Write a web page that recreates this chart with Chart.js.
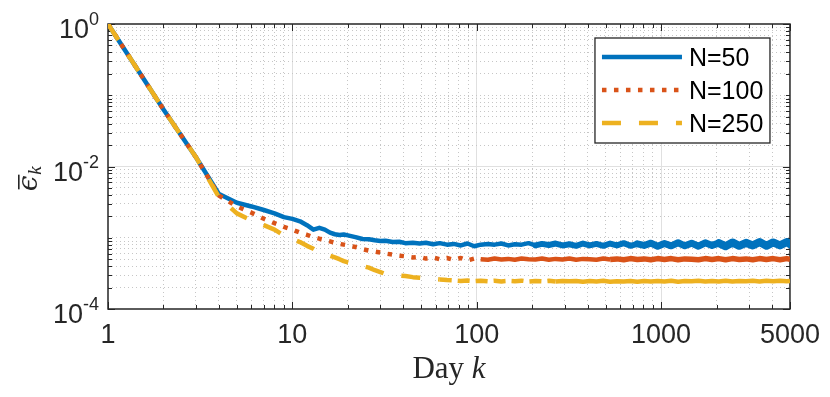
<!DOCTYPE html>
<html>
<head>
<meta charset="utf-8">
<script src="https://cdn.jsdelivr.net/npm/chart.js@4.4.0/dist/chart.umd.min.js"></script>
<style>
  html, body { margin: 0; padding: 0; background: #fff; }
  #wrap { width: 830px; height: 397px; position: relative; }
</style>
</head>
<body>
<div id="wrap"><canvas id="err"></canvas></div>
<script>
// day k (denser early, roughly log spaced later)
var days = [
  1, 2, 3, 4, 5, 6, 7, 8, 9, 10,
  11, 12, 13, 14, 15, 16, 17, 18, 19, 20,
  22, 24, 26, 28, 30, 32, 35, 38, 41, 45,
  49, 53, 58, 63, 69, 75, 82, 89, 97, 105,
  115, 125, 136, 148, 161, 175, 191, 208, 226, 246,
  268, 292, 318, 346, 377, 410, 446, 486, 529, 576,
  627, 682, 743, 809, 880, 958, 1043, 1135, 1236, 1345,
  1464, 1594, 1735, 1889, 2056, 2238, 2436, 2652, 2887, 3142,
  3420, 3723, 4053, 4412, 4803, 5000
];

// mean error, N=50
var errN50 = [
  1, 0.063, 0.0135, 0.0041, 0.0031, 0.00275, 0.00245, 0.0022, 0.00195, 0.00184,
  0.0017, 0.0015, 0.0013, 0.00138, 0.0013, 0.00118, 0.00112, 0.00109, 0.00111, 0.00108,
  0.00102, 0.00096, 0.00095, 0.00092, 0.0009, 0.00091, 0.00087, 0.00088, 0.00084, 0.00085,
  8.3e-4, 8.5e-4, 8.1e-4, 8.4e-4, 8.0e-4, 8.2e-4, 7.8e-4, 8.3e-4, 7.6e-4, 8.0e-4,
  8.2e-4, 8.0e-4, 8.3e-4, 7.8e-4, 8.1e-4, 8.0e-4, 8.4e-4, 7.8e-4, 8.2e-4, 7.9e-4,
  8.3e-4, 7.8e-4, 8.1e-4, 7.7e-4, 8.3e-4, 7.8e-4, 8.2e-4, 7.7e-4, 8.3e-4, 7.8e-4,
  8.4e-4, 7.7e-4, 8.2e-4, 7.8e-4, 8.4e-4, 7.6e-4, 8.3e-4, 7.7e-4, 8.5e-4, 7.7e-4,
  8.4e-4, 7.6e-4, 8.5e-4, 7.8e-4, 8.4e-4, 7.6e-4, 8.6e-4, 7.7e-4, 8.5e-4, 7.8e-4,
  8.7e-4, 7.7e-4, 8.6e-4, 7.8e-4, 8.7e-4, 8.1e-4
];

// mean error, N=100
var errN100 = [
  1, 0.063, 0.0135, 0.0039, 0.00275, 0.00225, 0.00185, 0.0016, 0.00142, 0.0013,
  0.00118, 0.0011, 0.00102, 0.00097, 0.00093, 0.00089, 0.00085, 0.00082, 0.0008, 0.00078,
  0.00074, 0.00069, 0.00066, 0.00064, 0.00062, 0.0006, 0.00058, 0.00056, 0.00055, 0.00053,
  5.4e-4, 5.1e-4, 5.3e-4, 5.0e-4, 5.2e-4, 4.9e-4, 5.2e-4, 4.8e-4, 5.1e-4, 5.0e-4,
  4.9e-4, 5.1e-4, 4.95e-4, 5.05e-4, 4.9e-4, 5.1e-4, 5.0e-4, 4.95e-4, 5.1e-4, 4.9e-4,
  5.05e-4, 4.95e-4, 5.1e-4, 4.9e-4, 5.05e-4, 5.0e-4, 4.9e-4, 5.1e-4, 4.95e-4, 5.05e-4,
  4.9e-4, 5.1e-4, 4.95e-4, 5.05e-4, 4.9e-4, 5.1e-4, 4.95e-4, 5.1e-4, 4.9e-4, 5.05e-4,
  5.0e-4, 4.9e-4, 5.1e-4, 4.95e-4, 5.1e-4, 4.9e-4, 5.1e-4, 4.95e-4, 5.05e-4, 4.9e-4,
  5.1e-4, 4.95e-4, 5.1e-4, 4.9e-4, 5.1e-4, 5.0e-4
];

// mean error, N=250
var errN250 = [
  1, 0.063, 0.0135, 0.0037, 0.0022, 0.00175, 0.0015, 0.0013, 0.00108, 0.00096,
  0.00087, 0.00077, 0.0007, 0.00062, 0.00059, 0.00056, 0.00053, 0.0005, 0.00047, 0.00045,
  0.00042, 0.0004, 0.00038, 0.00035, 0.00033, 0.00031, 0.0003, 0.000295, 0.00029, 0.00028,
  2.75e-4, 2.7e-4, 2.65e-4, 2.6e-4, 2.55e-4, 2.52e-4, 2.48e-4, 2.51e-4, 2.46e-4, 2.5e-4,
  2.45e-4, 2.49e-4, 2.44e-4, 2.48e-4, 2.45e-4, 2.5e-4, 2.43e-4, 2.47e-4, 2.44e-4, 2.49e-4,
  2.43e-4, 2.47e-4, 2.45e-4, 2.48e-4, 2.42e-4, 2.47e-4, 2.44e-4, 2.49e-4, 2.42e-4, 2.46e-4,
  2.44e-4, 2.48e-4, 2.42e-4, 2.47e-4, 2.43e-4, 2.48e-4, 2.44e-4, 2.49e-4, 2.42e-4, 2.47e-4,
  2.45e-4, 2.49e-4, 2.43e-4, 2.48e-4, 2.44e-4, 2.5e-4, 2.43e-4, 2.48e-4, 2.45e-4, 2.5e-4,
  2.44e-4, 2.49e-4, 2.45e-4, 2.5e-4, 2.46e-4, 2.48e-4
];

var seriesNames = ['N=50', 'N=100', 'N=250'];
var seriesColors = ['#0072BD', '#D95319', '#EDB120'];
var seriesDash = [[], [4.5, 7.5], [19, 18]];
var xTickLabels = [1, 10, 100, 1000, 5000];
var yTickValues = [1, 1e-2, 1e-4];
var yTickExps = ['0', '-2', '-4'];

var AX = '#262626';
var SANS = '"Liberation Sans", Arial, Helvetica, sans-serif';

function pts(arr) {
  return days.map(function (k, i) { return { x: k, y: arr[i] }; });
}

// 1..9 x 10^d ticks, used for the log grid
function logTicks(min, max) {
  var out = [];
  var d0 = Math.floor(Math.log10(min)), d1 = Math.ceil(Math.log10(max));
  for (var d = d0; d <= d1; d++) {
    for (var m = 1; m <= 9; m++) {
      var v = m * Math.pow(10, d);
      if (v >= min * 0.999999 && v <= max * 1.000001) out.push({ value: v });
    }
  }
  return out;
}
function near(a, b) { return Math.abs(Math.log10(a) - Math.log10(b)) < 1e-6; }
function isMajorX(v) { return near(v, 10) || near(v, 100) || near(v, 1000); }
function isMajorY(v) { return near(v, 1e-2); }
function isEdgeX(v) { return near(v, 1) || near(v, 5000); }
function isEdgeY(v) { return near(v, 1) || near(v, 1e-4); }

var matlabAxes = {
  id: 'matlabAxes',
  beforeDatasetsDraw: function (chart) {
    var ctx = chart.ctx, a = chart.chartArea;
    var xs = chart.scales.x, ys = chart.scales.y;
    ctx.save();
    ctx.strokeStyle = AX;
    ctx.lineWidth = 1;
    ctx.beginPath();
    xs.ticks.forEach(function (t) {
      var px = Math.round(xs.getPixelForValue(t.value)) + 0.5;
      var len = xTickLabels.some(function (l) { return near(l, t.value); }) ? 7 : 4;
      ctx.moveTo(px, a.bottom); ctx.lineTo(px, a.bottom - len);
      ctx.moveTo(px, a.top); ctx.lineTo(px, a.top + len);
    });
    ys.ticks.forEach(function (t) {
      var py = Math.round(ys.getPixelForValue(t.value)) + 0.5;
      var len = yTickValues.some(function (l) { return near(l, t.value); }) ? 7 : 4;
      ctx.moveTo(a.left, py); ctx.lineTo(a.left + len, py);
      ctx.moveTo(a.right, py); ctx.lineTo(a.right - len, py);
    });
    ctx.stroke();
    ctx.lineWidth = 1.5;
    ctx.strokeRect(a.left, a.top, a.right - a.left, a.bottom - a.top);
    ctx.restore();
  },
  afterDraw: function (chart) {
    var ctx = chart.ctx, a = chart.chartArea;
    var ys = chart.scales.y;
    ctx.save();
    ctx.fillStyle = AX;
    ctx.textAlign = 'left';
    ctx.textBaseline = 'alphabetic';

    // y tick labels 10^n
    yTickValues.forEach(function (v, i) {
      var py = ys.getPixelForValue(v);
      ctx.font = '18px ' + SANS;
      var ew = ctx.measureText(yTickExps[i]).width;
      ctx.font = '27px ' + SANS;
      var bw = ctx.measureText('10').width;
      var right = a.left - 9;
      ctx.fillText('10', right - ew - bw, py + 14);
      ctx.font = '18px ' + SANS;
      ctx.fillText(yTickExps[i], right - ew, py + 1);
    });

    // x title: Day k
    ctx.font = '31px "Liberation Serif", "Times New Roman", serif';
    var w1 = ctx.measureText('Day ').width;
    ctx.font = 'italic 31px "Liberation Serif", "Times New Roman", serif';
    var w2 = ctx.measureText('k').width;
    var cx = (a.left + a.right) / 2 - (w1 + w2) / 2;
    ctx.font = '31px "Liberation Serif", "Times New Roman", serif';
    ctx.fillText('Day ', cx, 378);
    ctx.font = 'italic 31px "Liberation Serif", "Times New Roman", serif';
    ctx.fillText('k', cx + w1, 378);

    // y title: bar epsilon_k, rotated
    ctx.save();
    ctx.translate(37, (a.top + a.bottom) / 2 + 13);
    ctx.rotate(-Math.PI / 2);
    ctx.font = 'italic 28px "DejaVu Serif", serif';
    var ew2 = ctx.measureText('\u03F5').width;
    ctx.fillText('\u03F5', -ew2 / 2 - 4, 0);
    ctx.fillRect(-ew2 / 2 - 2, -19, ew2 - 1, 1.6);
    ctx.font = 'italic 19px "Liberation Serif", serif';
    ctx.fillText('k', ew2 / 2 - 3, 4);
    ctx.restore();

    // legend box
    var lx = a.right - 195, ly = a.top + 14, lw = 175, lh = 105;
    ctx.fillStyle = '#fff';
    ctx.fillRect(lx, ly, lw, lh);
    ctx.strokeStyle = AX;
    ctx.lineWidth = 1.3;
    ctx.strokeRect(lx, ly, lw, lh);
    seriesNames.forEach(function (name, i) {
      var ry = ly + 19 + i * 33;
      ctx.save();
      ctx.strokeStyle = seriesColors[i];
      ctx.lineWidth = 4.5;
      ctx.lineCap = 'butt';
      ctx.setLineDash(seriesDash[i]);
      ctx.beginPath();
      ctx.moveTo(lx + 7, ry);
      ctx.lineTo(lx + 87, ry);
      ctx.stroke();
      ctx.restore();
      ctx.fillStyle = '#000';
      ctx.font = '25px ' + SANS;
      ctx.fillText(name, lx + 94, ry + 9);
    });
    ctx.restore();
  }
};

var ctx = document.getElementById('err').getContext('2d');
var chart = new Chart(ctx, {
  type: 'line',
  data: {
    datasets: [{
      label: seriesNames[0],
      data: pts(errN50),
      borderColor: seriesColors[0],
      borderWidth: 4.5,
      borderJoinStyle: 'round',
      borderCapStyle: 'round',
      pointRadius: 0,
      order: 3,
      // the daily noise thickens the band further out
      segment: {
        borderWidth: function (c) {
          var k = days[c.p0DataIndex];
          if (k >= 2000) return 8;
          if (k >= 700) return 7;
          if (k >= 200) return 6;
          return undefined;
        }
      }
    }, {
      label: seriesNames[1],
      data: pts(errN100),
      borderColor: seriesColors[1],
      borderWidth: 4.5,
      borderDash: seriesDash[1],
      borderJoinStyle: 'round',
      pointRadius: 0,
      order: 2,
      segment: {
        borderDash: function (c) { return days[c.p0DataIndex] >= 100 ? [] : undefined; },
        borderWidth: function (c) { return days[c.p0DataIndex] >= 500 ? 5.5 : undefined; }
      }
    }, {
      label: seriesNames[2],
      data: pts(errN250),
      borderColor: seriesColors[2],
      borderWidth: 4.5,
      borderDash: seriesDash[2],
      borderJoinStyle: 'round',
      pointRadius: 0,
      order: 1,
      segment: {
        borderDash: function (c) {
          var k = days[c.p0DataIndex];
          if (k >= 250) return [];
          if (k >= 60) return [12, 6];
          return undefined;
        }
      }
    }]
  },
  options: {
    responsive: true,
    maintainAspectRatio: false,
    animation: false,
    events: [],
    layout: { padding: { left: 0, top: 24, right: 32, bottom: 0 } },
    elements: { line: { tension: 0 } },
    plugins: { legend: { display: false }, tooltip: { enabled: false } },
    scales: {
      x: {
        type: 'logarithmic',
        min: 1,
        max: 5000,
        afterBuildTicks: function (s) { s.ticks = logTicks(1, 5000); },
        afterFit: function (s) { s.height = 88; },
        ticks: {
          autoSkip: false,
          maxRotation: 0,
          minRotation: 0,
          padding: 10,
          color: AX,
          font: { size: 27, family: SANS },
          callback: function (v) {
            return xTickLabels.some(function (l) { return near(l, v); }) ? String(Math.round(v)) : '';
          }
        },
        grid: {
          drawTicks: false,
          lineWidth: 1,
          color: function (c) {
            if (!c.tick || isEdgeX(c.tick.value)) return 'rgba(0,0,0,0)';
            return isMajorX(c.tick.value) ? '#e0e0e0' : '#c6c6c6';
          }
        },
        border: {
          display: false,
          dash: function (c) { return c.tick && !isMajorX(c.tick.value) ? [1, 3] : []; }
        }
      },
      y: {
        type: 'logarithmic',
        min: 1e-4,
        max: 1,
        afterBuildTicks: function (s) { s.ticks = logTicks(1e-4, 1); },
        afterFit: function (s) { s.width = 108; },
        ticks: { display: false },
        grid: {
          drawTicks: false,
          lineWidth: 1,
          color: function (c) {
            if (!c.tick || isEdgeY(c.tick.value)) return 'rgba(0,0,0,0)';
            return isMajorY(c.tick.value) ? '#e0e0e0' : '#c6c6c6';
          }
        },
        border: {
          display: false,
          dash: function (c) { return c.tick && !isMajorY(c.tick.value) ? [1, 3] : []; }
        }
      }
    }
  },
  plugins: [matlabAxes]
});
</script>
</body>
</html>
